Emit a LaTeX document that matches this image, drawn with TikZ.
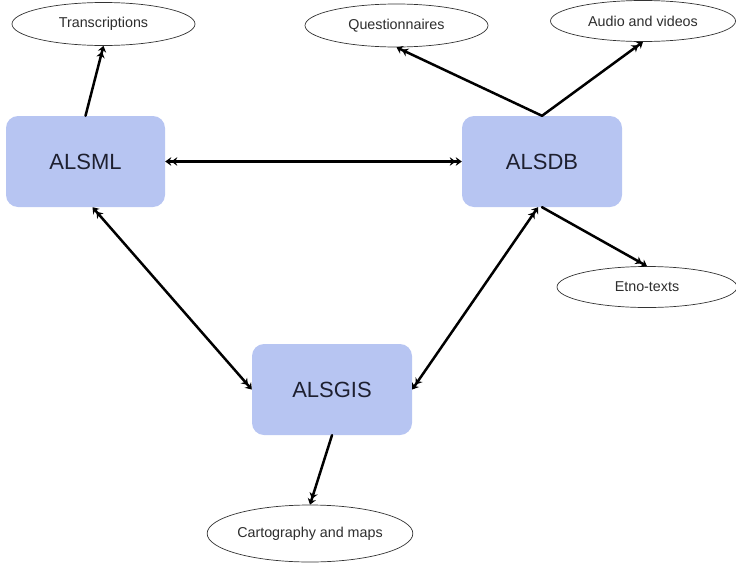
\documentclass[tikz,border=0pt]{standalone}
\usepackage{fontspec}
\setmainfont{Liberation Sans}
\usetikzlibrary{arrows.meta,shapes.geometric}
\definecolor{boxfill}{RGB}{183,197,242}
\definecolor{boxtext}{RGB}{30,32,48}
\definecolor{ovaltext}{RGB}{45,45,45}
\tikzset{
  tip/.tip={Stealth[length=6pt,width=8.5pt]Stealth[length=6pt,width=8.5pt]},
  sysbox/.style={draw=none, fill=boxfill, rounded corners=12pt,
    minimum width=159pt, minimum height=91pt, inner sep=0pt,
    text=boxtext, font=\fontsize{22}{26}\selectfont},
  oval/.style={ellipse, draw=black!80, line width=0.7pt, fill=white,
    inner sep=0pt, text=ovaltext, font=\fontsize{14.3}{17}\selectfont},
  link/.style={line width=2.5pt, draw=black, line cap=round, arrows={-tip}},
  biglink/.style={line width=2.5pt, draw=black, line cap=round, arrows={tip-tip}}
}
\begin{document}
\begin{tikzpicture}[x=1pt,y=-1pt]
\useasboundingbox (0,0) rectangle (736,565);

% central systems
\node[sysbox] (alsml) at (85.5,161.5) {ALSML};
\node[sysbox, minimum width=160pt] (alsdb) at (542,161.5) {ALSDB};
\node[sysbox, minimum width=160pt] (alsgis) at (332,389.5) {ALSGIS};

% resources
\node[oval, minimum width=183pt, minimum height=43pt] (trans) at (103.5,24) {Transcriptions};
\node[oval, minimum width=183pt, minimum height=43pt] (quest) at (396.5,25.5) {Questionnaires};
\node[oval, minimum width=185pt, minimum height=41pt] (audio) at (643,21) {Audio and videos};
\node[oval, minimum width=180pt, minimum height=41pt] (etno) at (647,287) {Etno-texts};
\node[oval, minimum width=184pt, minimum height=57pt] (carto) at (310,533.5) {Cartography and maps};

% attachment points on the box edges
\coordinate (mlfoot) at ([xshift=7pt]alsml.south);
\coordinate (dbfoot) at ([xshift=-4pt]alsdb.south);

% connections between systems
\draw[biglink] (alsml.east) -- (alsdb.west);
\draw[biglink] (mlfoot) -- (alsgis.west);
\draw[biglink] (alsgis.east) -- (dbfoot);

% system outputs
\draw[link] (alsml.north) -- (trans.south);
\draw[link] (alsdb.north) -- (quest.south);
\draw[link] (alsdb.north) -- (audio.south);
\draw[link] (alsdb.south) -- (etno.north);
\draw[link] (alsgis.south) -- (carto.north);
\end{tikzpicture}
\end{document}
